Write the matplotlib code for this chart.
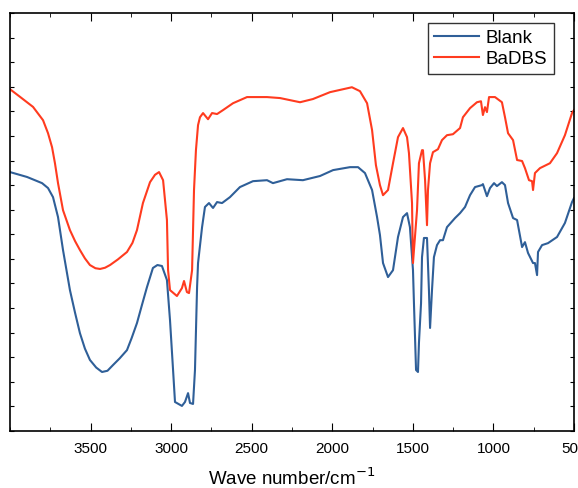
import matplotlib
matplotlib.use('Agg')
import matplotlib.pyplot as plt
from matplotlib.ticker import MultipleLocator, FixedLocator, NullFormatter

plt.rcParams['font.family'] = ['Liberation Sans', 'DejaVu Sans']

# spectra (wavenumber / cm-1, transmittance in arbitrary units)
wn_badbs = [4000, 3938, 3857, 3795, 3764, 3739, 3721, 3702, 3671, 3628, 3596, 3566, 3535, 3504, 3470,
            3441, 3410, 3379, 3330, 3274, 3240, 3212, 3175, 3131, 3100, 3075, 3050, 3026, 3019, 3007,
            2964, 2933, 2920, 2902, 2889, 2870, 2858, 2846, 2833, 2821, 2802, 2771, 2746, 2715, 2678,
            2616, 2529, 2405, 2324, 2200, 2120, 2014, 1878, 1828, 1784, 1753, 1729, 1704, 1685, 1654,
            1623, 1592, 1561, 1536, 1524, 1505, 1499, 1493, 1474, 1462, 1443, 1437, 1424, 1412, 1406,
            1393, 1375, 1344, 1319, 1288, 1251, 1207, 1189, 1145, 1102, 1077, 1065, 1052, 1040, 1027,
            990, 947, 928, 909, 878, 853, 822, 804, 779, 760, 754, 742, 711, 649, 605, 556, 512, 500]
t_badbs = [13.90, 13.59, 13.18, 12.64, 12.11, 11.54, 10.89, 10.08, 8.98, 8.17, 7.72, 7.36, 7.02, 6.75, 6.62,
           6.59, 6.64, 6.75, 6.98, 7.28, 7.65, 8.17, 9.27, 10.12, 10.42, 10.53, 10.20, 8.58, 6.54, 5.73,
           5.49, 5.81, 6.10, 5.65, 5.61, 6.54, 9.80, 11.42, 12.44, 12.76, 12.93, 12.68, 12.93, 12.89, 13.05,
           13.33, 13.58, 13.58, 13.54, 13.37, 13.50, 13.78, 13.98, 13.82, 13.33, 12.24, 10.81, 10.00, 9.59, 9.80,
           10.89, 11.95, 12.32, 11.95, 11.30, 9.27, 6.83, 7.36, 8.98, 10.89, 11.42, 11.42, 10.20, 8.37, 9.80,
           10.89, 11.34, 11.46, 11.83, 12.03, 12.07, 12.32, 12.76, 13.13, 13.37, 13.41, 12.85, 13.17, 12.97, 13.58,
           13.58, 13.37, 12.76, 12.11, 11.83, 11.02, 10.98, 10.69, 10.20, 10.16, 9.80, 10.49, 10.69, 10.89, 11.30,
           12.03, 12.93, 13.05]

wn_blank = [4000, 3894, 3801, 3764, 3733, 3702, 3671, 3628, 3596, 3566, 3535, 3504, 3465, 3429, 3395,
            3361, 3320, 3274, 3245, 3212, 3180, 3150, 3113, 3085, 3057, 3026, 3007, 2988, 2976, 2933,
            2914, 2895, 2883, 2864, 2852, 2839, 2833, 2808, 2790, 2765, 2740, 2715, 2684, 2635, 2573,
            2492, 2405, 2368, 2281, 2182, 2076, 1995, 1890, 1840, 1797, 1753, 1722, 1704, 1685, 1654,
            1623, 1592, 1561, 1536, 1518, 1499, 1493, 1480, 1468, 1462, 1449, 1443, 1431, 1412, 1400,
            1393, 1381, 1369, 1350, 1331, 1313, 1288, 1238, 1207, 1176, 1145, 1114, 1071, 1065, 1040,
            1021, 996, 978, 947, 928, 909, 878, 853, 822, 804, 785, 754, 742, 729, 723, 698, 661, 605,
            556, 512, 500]
t_blank = [10.53, 10.33, 10.08, 9.88, 9.51, 8.70, 7.36, 5.73, 4.80, 3.98, 3.35, 2.89, 2.58, 2.40, 2.45,
           2.68, 2.95, 3.29, 3.78, 4.39, 5.15, 5.85, 6.63, 6.75, 6.71, 6.14, 4.51, 2.48, 1.18, 1.02,
           1.18, 1.54, 1.14, 1.10, 2.48, 5.85, 6.83, 8.29, 9.11, 9.27, 9.07, 9.31, 9.27, 9.51, 9.92,
           10.16, 10.20, 10.08, 10.24, 10.20, 10.37, 10.61, 10.73, 10.73, 10.49, 9.80, 8.70, 7.97, 6.83, 6.26,
           6.54, 7.89, 8.70, 8.86, 8.29, 6.54, 5.20, 2.48, 2.40, 3.58, 5.20, 7.07, 7.85, 7.85, 5.73,
           4.19, 5.73, 7.07, 7.56, 7.76, 7.76, 8.29, 8.66, 8.86, 9.11, 9.59, 9.92, 10.00, 10.04, 9.55,
           9.88, 10.08, 9.96, 10.12, 10.00, 9.27, 8.66, 8.58, 7.48, 7.68, 7.24, 6.83, 6.83, 6.34, 7.28, 7.56, 7.64, 7.89,
           8.46, 9.31, 9.47]

x_ticks = [3500, 3000, 2500, 2000, 1500, 1000, 500]

fig = plt.figure(figsize=(5.78, 4.88), dpi=100)
ax = fig.add_axes([0.0173, 0.1168, 0.9757, 0.8566])

ax.plot(wn_blank, t_blank, color='#2f5f98', lw=1.5, label='Blank')
ax.plot(wn_badbs, t_badbs, color='#ff3b1f', lw=1.5, label='BaDBS')

ax.set_xlim(4000, 500)
ax.set_ylim(0, 17)

ax.xaxis.set_major_locator(FixedLocator(x_ticks))
ax.xaxis.set_minor_locator(MultipleLocator(250))
ax.yaxis.set_major_locator(MultipleLocator(1))
ax.yaxis.set_major_formatter(NullFormatter())
ax.tick_params(axis='x', which='major', direction='in', length=6, top=True, labelsize=11, pad=8)
ax.tick_params(axis='x', which='minor', direction='in', length=3, top=True)
ax.tick_params(axis='y', which='major', direction='in', length=3, right=True)
for s in ax.spines.values():
    s.set_linewidth(1.2)

ax.set_xlabel('Wave number/cm$^{-1}$', fontsize=13.5, labelpad=8)

leg = ax.legend(loc='upper right', bbox_to_anchor=(554 / 578, 1 - 23 / 488),
                bbox_transform=fig.transFigure, borderaxespad=0,
                fontsize=13.5, frameon=True, fancybox=False, edgecolor='black',
                handlelength=2.4, handletextpad=0.35, labelspacing=0.2, borderpad=0.35)
leg.get_frame().set_linewidth(1.0)

fig.savefig('out.png', dpi=100)
